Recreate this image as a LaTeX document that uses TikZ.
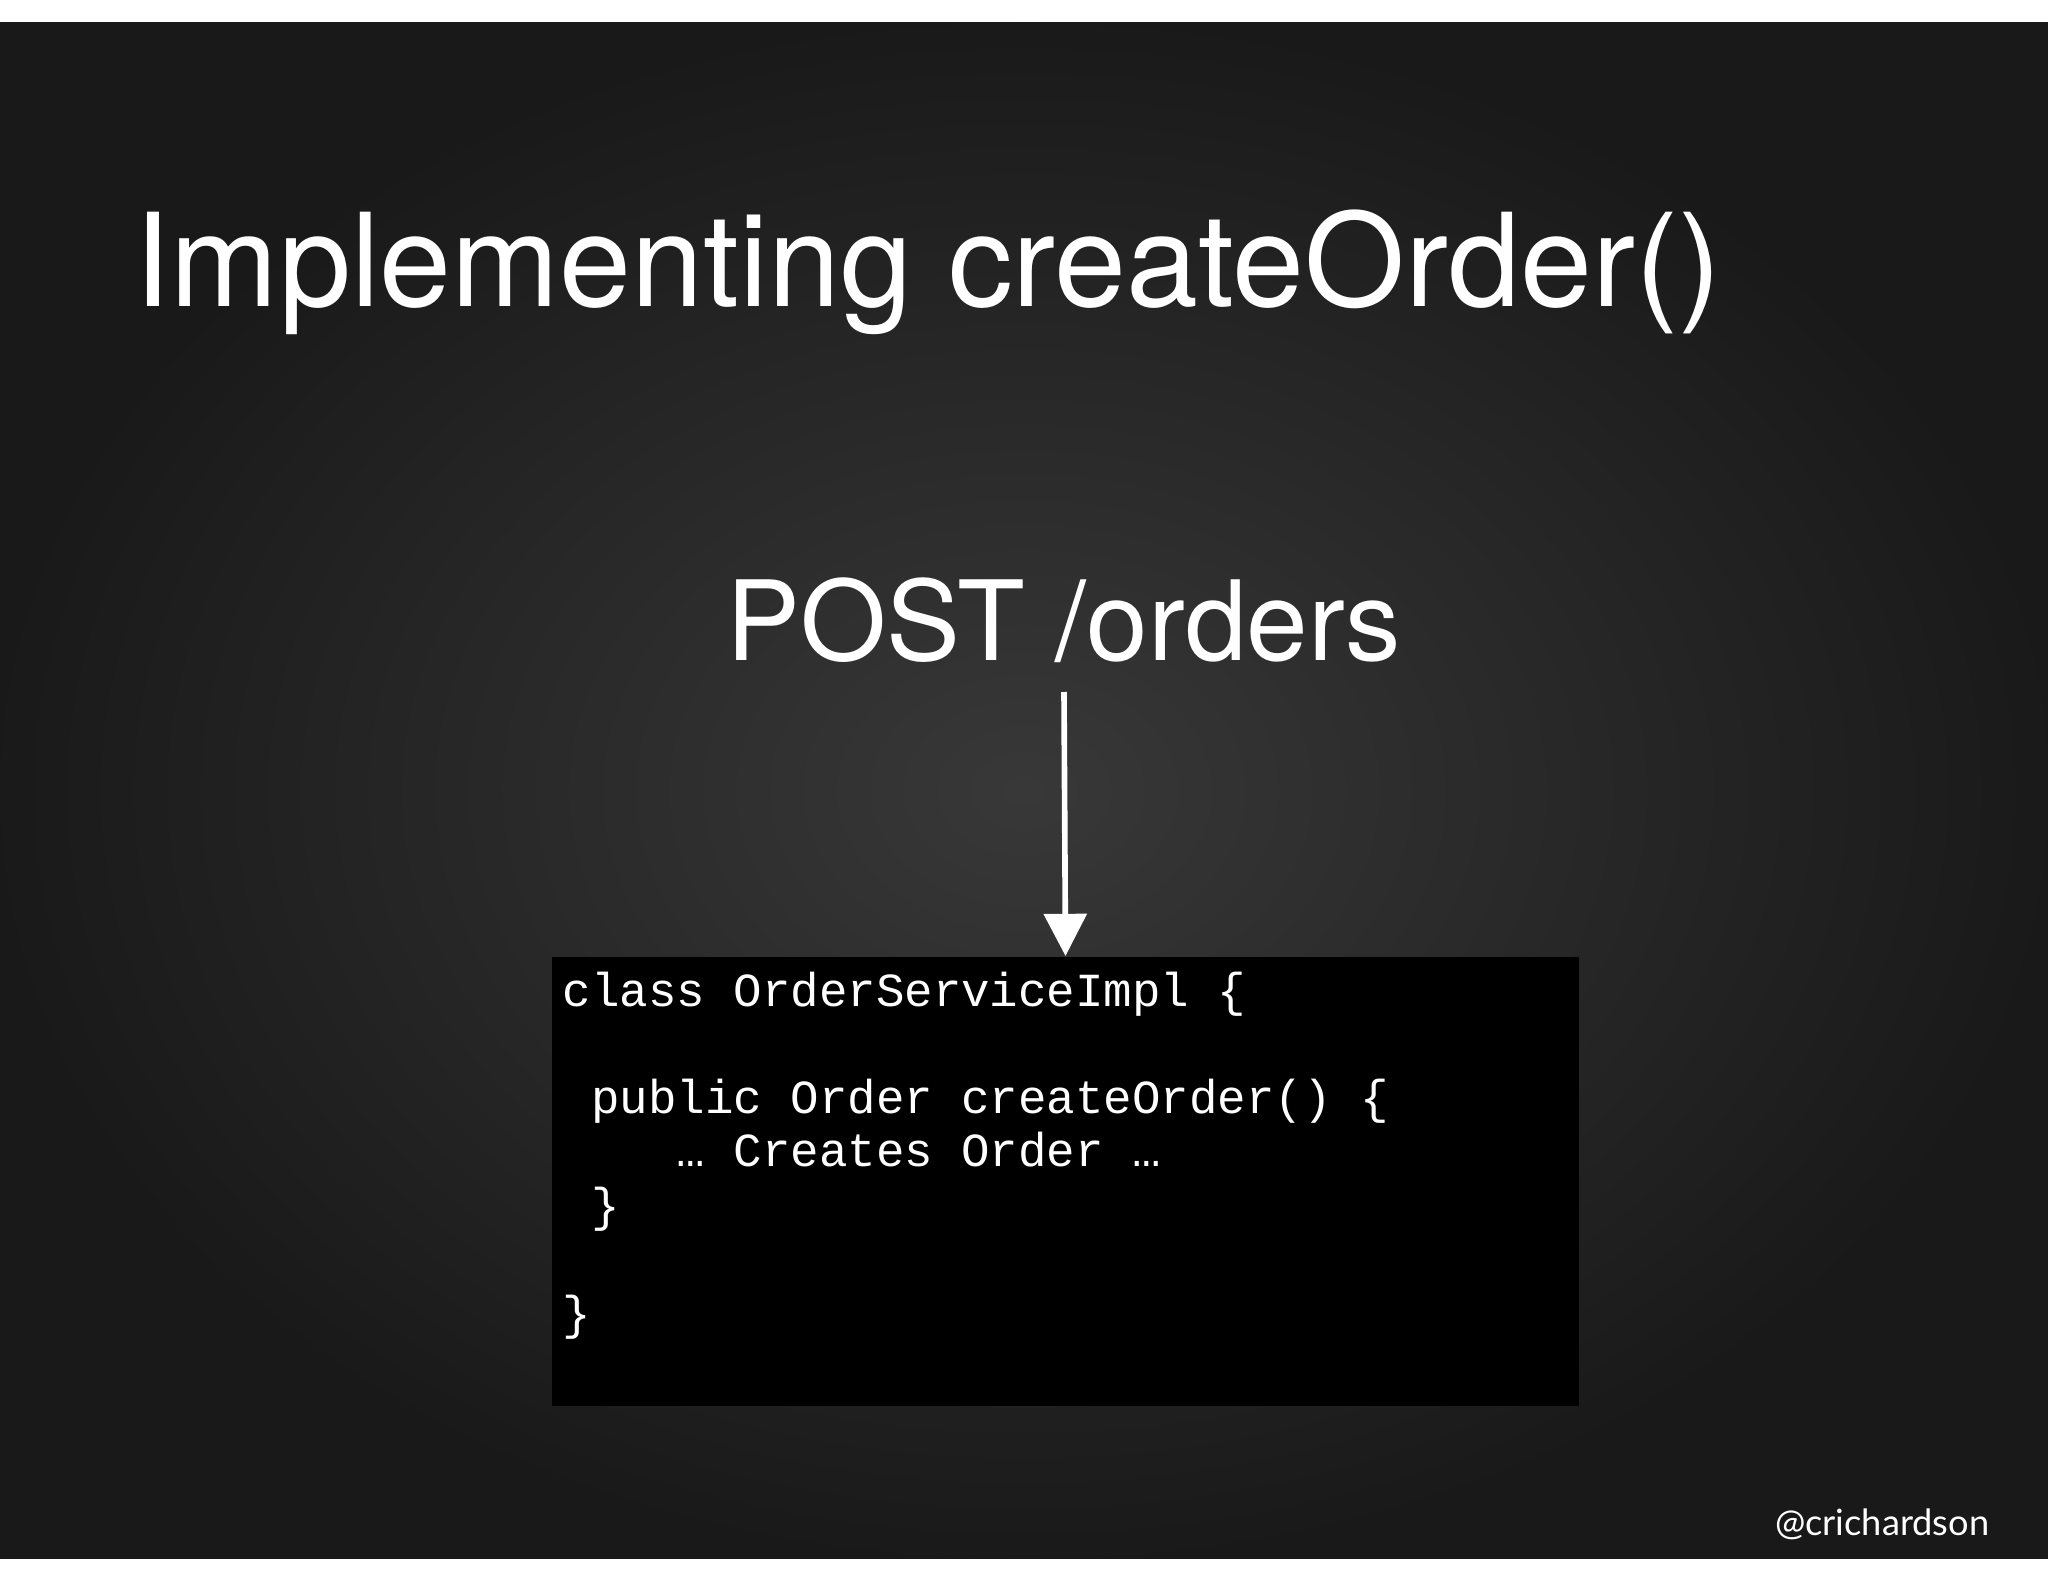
\documentclass[tikz,border=0pt]{standalone}
\usepackage{fontspec}
\setmainfont{TeX Gyre Heros}
\newfontfamily\codefont{Liberation Mono}
\newfontfamily\handlefont{Lato}
\usetikzlibrary{arrows.meta}
\tikzset{
  codeline/.style={anchor=base west,inner sep=0pt,text=white,font=\codefont\fontsize{13.5pt}{16pt}\selectfont},
}
\begin{document}
\begin{tikzpicture}[x=0.01cm,y=-0.01cm]
\useasboundingbox (0,0) rectangle (2048,1582);
\fill[white] (0,0) rectangle (2048,1582);
\shade[inner color=black!78,outer color=black!90] (0,23) rectangle (2048,1558);
\node[anchor=base west,inner sep=0pt,text=white,font=\fontsize{36.8pt}{42pt}\selectfont] (title) at (134,307) {Implementing createOrder()};
\node[anchor=base,inner sep=0pt,text=white,font=\fontsize{31.5pt}{37pt}\selectfont] (post) at (1064,660) {POST /orders};
\node[fill=black,anchor=north west,inner sep=0pt,minimum width=10.27cm,minimum height=4.49cm] (box) at (551,956) {};
\coordinate (astart) at (1064,692);
\draw[white,line width=1.6pt,-{Triangle[length=12pt,width=12pt]}] (astart) -- (box.north);
\node[codeline] (l1) at (562,1006) {class OrderServiceImpl \{};
\node[codeline] (l3) at (562,1113) {\phantom{x}public Order createOrder() \{};
\node[codeline] (l4) at (562,1166) {\phantom{xxxx}… Creates Order …};
\node[codeline] (l5) at (562,1221) {\phantom{x}\}};
\node[codeline] (l7) at (562,1329) {\}};
\node[anchor=base east,inner sep=0pt,text=white,font=\handlefont\fontsize{10.3pt}{12pt}\selectfont] (handle) at (1990,1535) {@crichardson};
\end{tikzpicture}
\end{document}
